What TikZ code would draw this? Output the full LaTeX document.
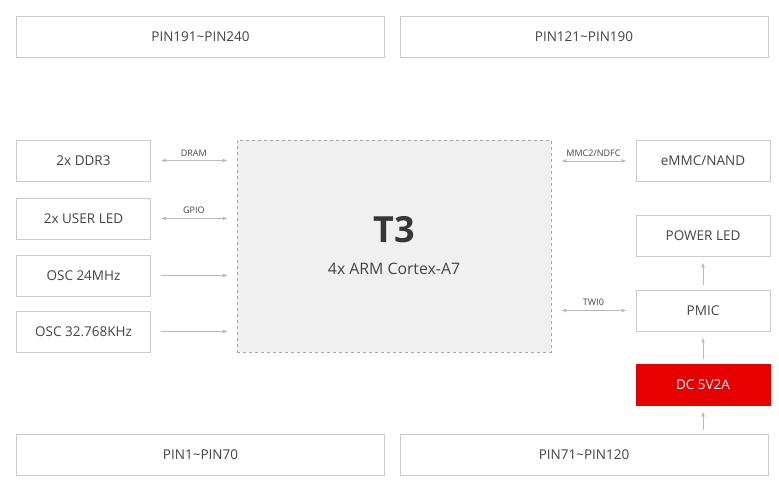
\documentclass[tikz,border=0pt]{standalone}
\usepackage{fontspec}
\setmainfont{Open Sans}
\usepackage{tikz}
\usetikzlibrary{arrows.meta}
\usetikzlibrary{positioning}
\definecolor{boxline}{HTML}{CCCCCC}
\definecolor{boxtext}{HTML}{444444}
\definecolor{arrowgray}{HTML}{BBBBBB}
\definecolor{chipfill}{HTML}{F0F0F0}
\definecolor{chipline}{HTML}{A8A8A8}
\definecolor{dcred}{HTML}{E60000}
\tikzset{blk/.style = {draw = boxline, fill = white, text = boxtext, line width = 0.8pt,
    minimum height = 41pt, inner sep = 0, font = \fontsize{13.5}{15}\selectfont},
  pinblk/.style = {blk, minimum width = 368pt},
  sideblk/.style = {blk, minimum width = 134pt},
  link/.style = {draw = arrowgray, line width = 0.9pt, -{Latex[length=5pt, width=4pt]},
    shorten <= 10pt, shorten >= 9pt},
  biLink/.style = {link, {Latex[length=5pt, width=4pt]}-{Latex[length=5pt, width=4pt]}},
  upLink/.style = {link, shorten <= 5pt, shorten >= 6pt},
  busname/.style = {above = 4pt, text = boxtext, font = \fontsize{9}{10}\selectfont, inner sep = 0}}

\begin{document}
\begin{tikzpicture}[x = 1pt, y = -1pt]
    \useasboundingbox (0, 0) rectangle (779, 493);

    % pin headers
    \node [pinblk] (pinTL) at (200.5, 36.5) {PIN191\textasciitilde PIN240};
    \node [pinblk] (pinTR) at (584, 36.5) {PIN121\textasciitilde PIN190};
    \node [pinblk] (pinBL) at (200.5, 454.5) {PIN1\textasciitilde PIN70};
    \node [pinblk] (pinBR) at (584, 454.5) {PIN71\textasciitilde PIN120};

    % soc
    \node [draw = chipline, dashed, fill = chipfill, line width = 0.7pt,
      minimum width = 314pt, minimum height = 212pt, inner sep = 0] (soc) at (394, 246) {};
    \node [text = boxtext!80!black, font = \fontsize{36}{40}\selectfont\bfseries] (socName) at (394, 230) {T3};
    \node [text = boxtext, font = \fontsize{15.8}{18}\selectfont] (socCores) at (394, 269) {4x ARM Cortex-A7};

    % left side
    \node [sideblk] (ddr) at (83.5, 160.5) {2x DDR3};
    \node [sideblk] (led) at (83.5, 218.5) {2x USER LED};
    \node [sideblk] (osc24) at (83.5, 275.5) {OSC 24MHz};
    \node [sideblk] (osc32) at (83.5, 331.5) {OSC 32.768KHz};

    % right side
    \node [sideblk] (emmc) at (703, 161) {eMMC/NAND};
    \node [sideblk] (pled) at (703, 235.5) {POWER LED};
    \node [sideblk] (pmic) at (703, 310.5) {PMIC};
    \node [sideblk, draw = dcred, fill = dcred, text = white] (dc) at (703, 384.5) {DC 5V2A};

    \draw [biLink] (ddr) -- (ddr -| soc.west) node [busname, midway] {DRAM};
    \draw [biLink] (led) -- (led -| soc.west) node [busname, midway] {GPIO};
    \draw [link] (osc24) -- (osc24 -| soc.west);
    \draw [link] (osc32) -- (osc32 -| soc.west);

    \draw [biLink] (emmc -| soc.east) -- (emmc) node [busname, midway] {MMC2/NDFC};
    \draw [biLink] (pmic -| soc.east) -- (pmic) node [busname, midway] {TWI0};

    \coordinate (dcIn) at (pinBR.north -| dc);
    \draw [upLink] (pmic) -- (pled);
    \draw [upLink] (dc) -- (pmic);
    \draw [upLink, shorten <= 4pt] (dcIn) -- (dc);
  \end{tikzpicture}
\end{document}
